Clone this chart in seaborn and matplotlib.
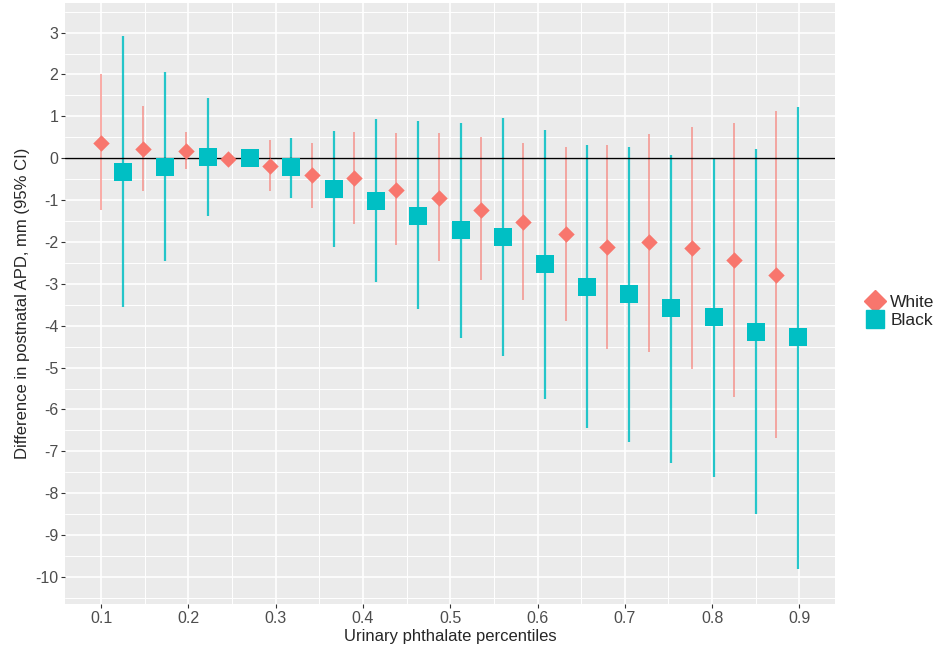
import pandas as pd
import matplotlib.pyplot as plt
import seaborn as sns
from matplotlib.ticker import MultipleLocator
from matplotlib.lines import Line2D

# percentile positions (as drawn, black points dodged to the right)
white_x = [0.100, 0.148, 0.197, 0.245, 0.293, 0.342, 0.390, 0.438, 0.487,
           0.535, 0.583, 0.632, 0.680, 0.728, 0.777, 0.825, 0.873]
black_x = [0.125, 0.173, 0.222, 0.270, 0.318, 0.367, 0.415, 0.463, 0.512,
           0.560, 0.608, 0.657, 0.705, 0.753, 0.802, 0.850, 0.898]

white_est = [0.37, 0.23, 0.18, -0.01, -0.18, -0.41, -0.48, -0.75, -0.95,
             -1.23, -1.53, -1.80, -2.12, -2.00, -2.14, -2.44, -2.79]
white_lo = [-1.24, -0.78, -0.26, -0.06, -0.78, -1.19, -1.58, -2.07, -2.46,
            -2.90, -3.39, -3.89, -4.56, -4.62, -5.04, -5.71, -6.67]
white_hi = [2.00, 1.24, 0.63, 0.04, 0.44, 0.37, 0.63, 0.61, 0.61,
            0.50, 0.37, 0.27, 0.32, 0.59, 0.75, 0.83, 1.13]

black_est = [-0.32, -0.22, 0.03, 0.01, -0.22, -0.74, -1.02, -1.37, -1.72,
             -1.88, -2.53, -3.07, -3.25, -3.57, -3.80, -4.14, -4.28]
black_lo = [-3.55, -2.46, -1.38, -0.04, -0.96, -2.12, -2.95, -3.59, -4.30,
            -4.73, -5.76, -6.44, -6.77, -7.27, -7.62, -8.49, -9.82]
black_hi = [2.91, 2.05, 1.43, 0.05, 0.48, 0.66, 0.93, 0.89, 0.85,
            0.97, 0.67, 0.31, 0.27, 0.08, 0.01, 0.21, 1.23]

df = pd.concat([
    pd.DataFrame({"x": white_x, "est": white_est, "lo": white_lo, "hi": white_hi, "group": "White"}),
    pd.DataFrame({"x": black_x, "est": black_est, "lo": black_lo, "hi": black_hi, "group": "Black"}),
])

colors = {"White": "#F8766D", "Black": "#00BFC4"}
markers = {"White": "D", "Black": "s"}
sizes = {"White": 70, "Black": 160}

sns.set_theme(style="darkgrid", rc={"axes.facecolor": "#EBEBEB", "grid.color": "white"})
plt.rcParams["font.family"] = ["Liberation Sans", "DejaVu Sans"]
plt.rcParams["axes.unicode_minus"] = False

fig = plt.figure(figsize=(9.48, 6.56), dpi=100)
ax = fig.add_axes([0.069, 0.079, 0.812, 0.916])

for g in ["White", "Black"]:
    sub = df[df["group"] == g]
    ax.vlines(sub["x"], sub["lo"], sub["hi"], color=colors[g],
              lw=1.3 if g == "White" else 1.6,
              alpha=0.65 if g == "White" else 0.85, zorder=2)
    sns.scatterplot(data=sub, x="x", y="est", color=colors[g], marker=markers[g],
                    s=sizes[g], linewidth=0, ax=ax, zorder=3, legend=False)

ax.axhline(0, color="black", lw=1.0, zorder=2.5)

ax.set_xlim(0.059, 0.941)
ax.set_ylim(-10.65, 3.7)
ax.set_xticks([0.1, 0.2, 0.3, 0.4, 0.5, 0.6, 0.7, 0.8, 0.9])
ax.set_xticklabels(["0.1", "0.2", "0.3", "0.4", "0.5", "0.6", "0.7", "0.8", "0.9"])
ax.set_yticks(list(range(-10, 4)))
ax.xaxis.set_minor_locator(MultipleLocator(0.05))
ax.yaxis.set_minor_locator(MultipleLocator(0.5))
ax.grid(which="major", color="white", lw=1.2)
ax.grid(which="minor", color="white", lw=0.7)
ax.tick_params(which="major", length=3, width=0.8, color="#333333", labelsize=11.5,
               labelcolor="#4D4D4D", left=True, bottom=True, pad=2)
ax.tick_params(which="minor", length=0)
for s in ax.spines.values():
    s.set_visible(False)

ax.set_xlabel("Urinary phthalate percentiles", fontsize=12, labelpad=2)
ax.set_ylabel("Difference in postnatal APD, mm (95% CI)", fontsize=12, labelpad=4)

handles = [Line2D([], [], marker=markers[g], color=colors[g], ls="none",
                  markersize=11 if g == "White" else 13) for g in ["White", "Black"]]
fig.legend(handles, ["White", "Black"], loc="center left", bbox_to_anchor=(0.895, 0.525),
           frameon=False, fontsize=12.5, handletextpad=0.3, labelspacing=0.2,
           handlelength=1.2)

plt.savefig("out.png", dpi=100)
